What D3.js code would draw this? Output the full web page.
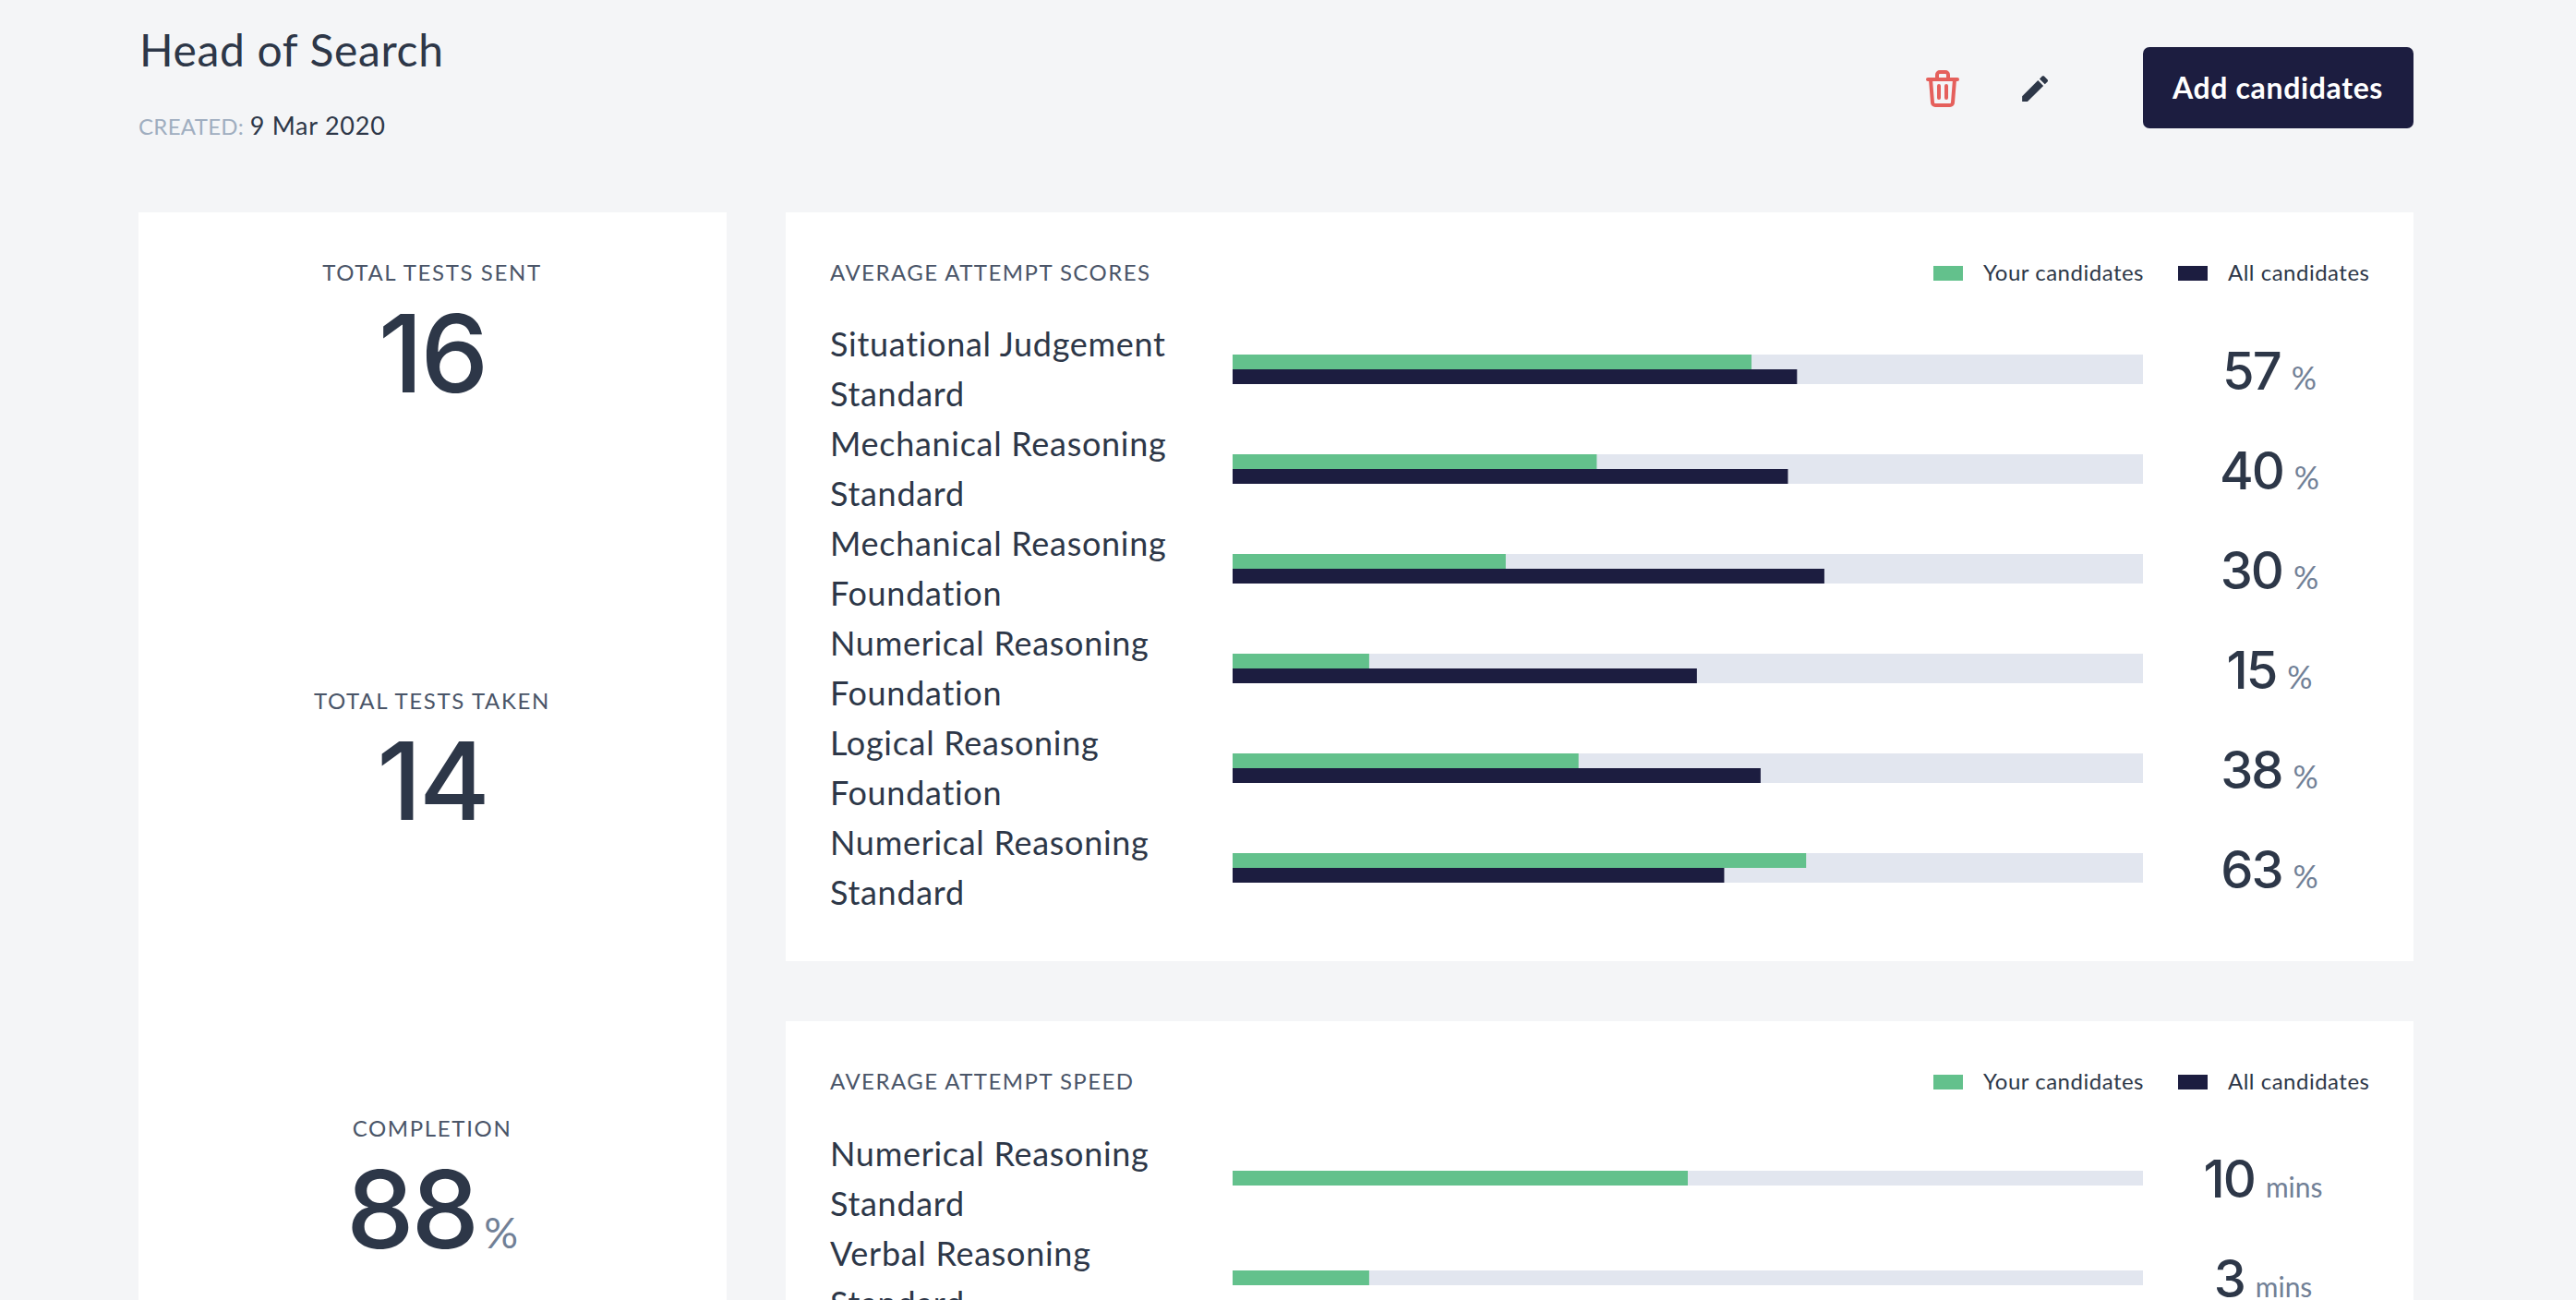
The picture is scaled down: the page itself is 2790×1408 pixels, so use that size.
<!DOCTYPE html>
<html lang="en">
<head>
    <meta charset="UTF-8">
    <title>Head of Search</title>
    <script src="https://d3js.org/d3.v7.min.js"></script>
    <style>
        html, body { margin: 0; padding: 0; background: #f4f5f7; overflow: hidden; }
        svg { display: block; }
        text { font-family: Lato, "Open Sans", sans-serif; fill: #2d3748; }
        .page-title { font-size: 48px; letter-spacing: 0.65px; }
        .created { font-size: 27px; letter-spacing: 0.75px; }
        .stat-label { font-size: 24px; letter-spacing: 1.65px; fill: #4a5568; text-anchor: middle; }
        .stat-value { font-family: Inter, Lato, sans-serif; font-size: 117px; font-weight: 500; letter-spacing: -3px; text-anchor: middle; }
        .unit { fill: #718096; font-family: Lato, sans-serif; font-weight: 400; letter-spacing: 0; }
        .panel-title { font-size: 24px; letter-spacing: 1.45px; fill: #4a5568; }
        .legend-text { font-size: 24px; letter-spacing: 0.5px; }
        .row-label { font-size: 36px; letter-spacing: 0.7px; }
        .row-value { font-family: Inter, Lato, sans-serif; font-size: 56px; font-weight: 500; letter-spacing: -2px; text-anchor: middle; }
        .button-text { font-size: 32px; font-weight: 700; letter-spacing: 0.65px; fill: #fff; text-anchor: middle; }
    </style>
</head>
<body>

<svg id="chart" width="2790" height="1408"></svg>

<script>
    const pageTitle = 'Head of Search';
    const createdDate = '9 Mar 2020';

    const statLabels = ['TOTAL TESTS SENT', 'TOTAL TESTS TAKEN', 'COMPLETION'];
    const statValues = [16, 14, 88];
    const statUnits = ['', '', '%'];

    const seriesNames = ['Your candidates', 'All candidates'];

    const scoreTests = [
        'Situational Judgement Standard',
        'Mechanical Reasoning Standard',
        'Mechanical Reasoning Foundation',
        'Numerical Reasoning Foundation',
        'Logical Reasoning Foundation',
        'Numerical Reasoning Standard'
    ];
    const scoreYours = [57, 40, 30, 15, 38, 63];
    const scoreAll = [62, 61, 65, 51, 58, 54];

    const speedTests = ['Numerical Reasoning Standard', 'Verbal Reasoning Standard'];
    const speedYours = [10, 3];
    const speedAll = [];

    const colors = { yours: '#63c18c', all: '#1c1d40', track: '#e2e6ef' };

    const svg = d3.select('#chart');

    // cards
    const cards = [
        [150, 230, 637, 1178],
        [851, 230, 1763, 811],
        [851, 1106, 1763, 302]
    ];
    svg.selectAll('rect.card')
        .data(cards)
        .enter()
        .append('rect')
        .attr('class', 'card')
        .attr('x', d => d[0])
        .attr('y', d => d[1])
        .attr('width', d => d[2])
        .attr('height', d => d[3])
        .attr('fill', '#fff');

    // header
    svg.append('text').attr('class', 'page-title').attr('x', 151).attr('y', 72).text(pageTitle);
    const created = svg.append('text').attr('class', 'created').attr('x', 150).attr('y', 146);
    created.append('tspan').style('fill', '#a0aec0').style('font-size', '24px').style('letter-spacing', '0.3px').text('CREATED: ');
    created.append('tspan').text(createdDate);

    // delete icon
    const trash = svg.append('g')
        .attr('transform', 'translate(2086,76)')
        .attr('fill', 'none')
        .attr('stroke', '#e5605c')
        .attr('stroke-width', 4)
        .attr('stroke-linecap', 'round')
        .attr('stroke-linejoin', 'round');
    trash.append('path').attr('d', 'M2 10H34');
    trash.append('path').attr('d', 'M12 10V5a3 3 0 0 1 3-3h6a3 3 0 0 1 3 3v5');
    trash.append('path').attr('d', 'M5 10l2 25a3 3 0 0 0 3 3h16a3 3 0 0 0 3-3l2-25');
    trash.append('path').attr('d', 'M14 17V30M22 17V30');

    // edit icon
    svg.append('path')
        .attr('transform', 'translate(2185.5,77.5) scale(1.55)')
        .attr('fill', '#2d3748')
        .attr('d', 'M3 17.25V21h3.75L17.81 9.94l-3.75-3.75L3 17.25zM20.71 7.04c.39-.39.39-1.02 0-1.41l-2.34-2.34c-.39-.39-1.02-.39-1.41 0l-1.83 1.83 3.75 3.75 1.83-1.83z');

    // button
    svg.append('rect')
        .attr('x', 2321).attr('y', 51)
        .attr('width', 293).attr('height', 88)
        .attr('rx', 7)
        .attr('fill', colors.all);
    svg.append('text').attr('class', 'button-text').attr('x', 2467).attr('y', 107).text('Add candidates');

    // left column stats
    const statLabelY = [304, 768, 1231];
    const statValueY = [425, 888, 1352];
    statLabels.forEach((label, i) => {
        svg.append('text').attr('class', 'stat-label').attr('x', 468).attr('y', statLabelY[i]).text(label);
        const t = svg.append('text').attr('class', 'stat-value').attr('x', 468).attr('y', statValueY[i]);
        t.append('tspan').text(statValues[i]);
        if (statUnits[i]) {
            t.append('tspan').attr('class', 'unit').attr('dx', 8).style('font-size', '46px').text(statUnits[i]);
        }
    });

    function drawPanel(opts) {
        const x = d3.scaleLinear().domain([0, opts.max]).range([1335, 2321]);
        const y = d3.scaleBand()
            .domain(opts.tests)
            .range([opts.top, opts.top + opts.tests.length * 108 - (108 - opts.band)])
            .paddingInner((108 - opts.band) / 108)
            .paddingOuter(0);

        const series = [{ values: opts.yours, color: colors.yours }];
        if (opts.all.length) series.push({ values: opts.all, color: colors.all });
        const inner = d3.scaleBand().domain(d3.range(series.length)).range([0, y.bandwidth()]);

        svg.append('text').attr('class', 'panel-title').attr('x', 899).attr('y', opts.titleY).text(opts.title);

        // legend
        const legend = svg.append('g').attr('transform', `translate(0,${opts.titleY - 16})`);
        [[2094, 2148], [2359, 2413]].forEach((pos, i) => {
            legend.append('rect')
                .attr('x', pos[0]).attr('width', 32).attr('height', 16)
                .attr('fill', i === 0 ? colors.yours : colors.all);
            legend.append('text').attr('class', 'legend-text')
                .attr('x', pos[1]).attr('y', 16).text(seriesNames[i]);
        });

        const rows = svg.append('g');
        rows.selectAll('rect.track')
            .data(opts.tests)
            .enter()
            .append('rect')
            .attr('class', 'track')
            .attr('x', x(0))
            .attr('y', d => y(d))
            .attr('width', x(opts.max) - x(0))
            .attr('height', y.bandwidth())
            .attr('fill', colors.track);

        series.forEach((s, k) => {
            rows.selectAll(`rect.bar-${k}`)
                .data(opts.tests)
                .enter()
                .append('rect')
                .attr('class', `bar-${k}`)
                .attr('x', x(0))
                .attr('y', d => y(d) + inner(k))
                .attr('width', (d, i) => x(s.values[i]) - x(0))
                .attr('height', inner.bandwidth())
                .attr('fill', s.color);
        });

        // labels wrap before the last word
        opts.tests.forEach((test, i) => {
            const cut = test.lastIndexOf(' ');
            const rowY = y(test);
            rows.append('text').attr('class', 'row-label').attr('x', 899)
                .attr('y', rowY + opts.labelDy).text(test.slice(0, cut));
            rows.append('text').attr('class', 'row-label').attr('x', 899)
                .attr('y', rowY + opts.labelDy + 54).text(test.slice(cut + 1));

            const v = rows.append('text').attr('class', 'row-value')
                .attr('x', opts.valueX).attr('y', rowY + opts.valueDy);
            v.append('tspan').text(opts.yours[i]);
            v.append('tspan').attr('class', 'unit').attr('dx', 12)
                .style('font-size', opts.unitSize).text(opts.unit);
        });
    }

    drawPanel({
        title: 'AVERAGE ATTEMPT SCORES', titleY: 304, tests: scoreTests,
        yours: scoreYours, all: scoreAll, max: 100, top: 384, band: 32,
        labelDy: 2, valueDy: 38, valueX: 2458, unit: '%', unitSize: '34px'
    });
    drawPanel({
        title: 'AVERAGE ATTEMPT SPEED', titleY: 1180, tests: speedTests,
        yours: speedYours, all: speedAll, max: 20, top: 1268, band: 16,
        labelDy: -5, valueDy: 29, valueX: 2451, unit: 'mins', unitSize: '30px'
    });
</script>

</body>
</html>
